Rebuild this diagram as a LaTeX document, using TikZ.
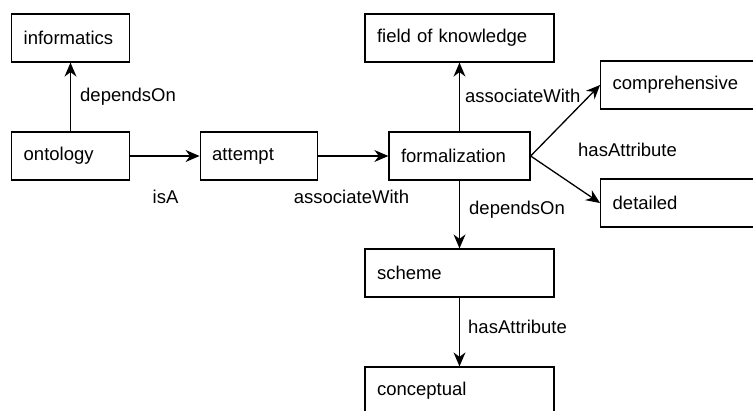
\documentclass[tikz,border=0pt]{standalone}
\usepackage{fontspec}
\setmainfont{Liberation Sans}
\usetikzlibrary{arrows.meta}
\begin{document}
\begin{tikzpicture}[x=1pt,y=-1pt,
  font=\fontsize{18.5pt}{22pt}\selectfont,
  concept/.style={draw=black,line width=1.3pt,rectangle,minimum height=48pt,
    inner xsep=12pt,inner ysep=0pt,align=left},
  w118/.style={minimum width=117.6pt,text width=93.6pt},
  w141/.style={minimum width=141pt,text width=117pt},
  w189/.style={minimum width=189pt,text width=165pt},
  w160/.style={minimum width=160pt,text width=136pt},
  rel/.style={line width=1.3pt,-{Stealth[length=14pt,width=12pt,inset=4.5pt]}},
  lbl/.style={inner sep=0pt}]
\useasboundingbox (0,0) rectangle (753,410);
\clip (0,0) rectangle (753,410);

% concept boxes
\node[concept,w118] (informatics) at (70.5,38)  {informatics};
\node[concept,w118] (ontology)    at (70.5,156) {ontology};
\node[concept,w118] (attempt)     at (259,156)  {attempt};
\node[concept,w141] (formal)      at (459.5,156) {formalization};
\node[concept,w189] (field)       at (459.5,38) {field of knowledge};
\node[concept,w189] (scheme)      at (459.5,273) {scheme};
\node[concept,w189] (conceptual)  at (459.5,391) {conceptual};
\node[concept,w160] (compr)       at (680.7,85) {comprehensive};
\node[concept,w160] (detailed)    at (680.7,203) {detailed};

% relations
\draw[rel] (ontology) -- (informatics);
\draw[rel] (ontology) -- (attempt);
\draw[rel] (attempt) -- (formal);
\draw[rel] (formal) -- (field);
\draw[rel] (formal.east) -- (compr.west);
\draw[rel] (formal.east) -- (detailed.west);
\draw[rel] (formal) -- (scheme);
\draw[rel] (scheme) -- (conceptual);

% relation labels
\node[lbl,anchor=west] (l1) at (80,97) {dependsOn};
\node[lbl] (l2) at (165.5,197) {isA};
\node[lbl] (l3) at (351.5,197) {associateWith};
\node[lbl,anchor=west] (l4) at (465,96) {associateWith};
\node[lbl,anchor=west] (l5) at (578,150) {hasAttribute};
\node[lbl,anchor=west] (l6) at (469,210) {dependsOn};
\node[lbl,anchor=west] (l7) at (468,327) {hasAttribute};
\end{tikzpicture}
\end{document}
